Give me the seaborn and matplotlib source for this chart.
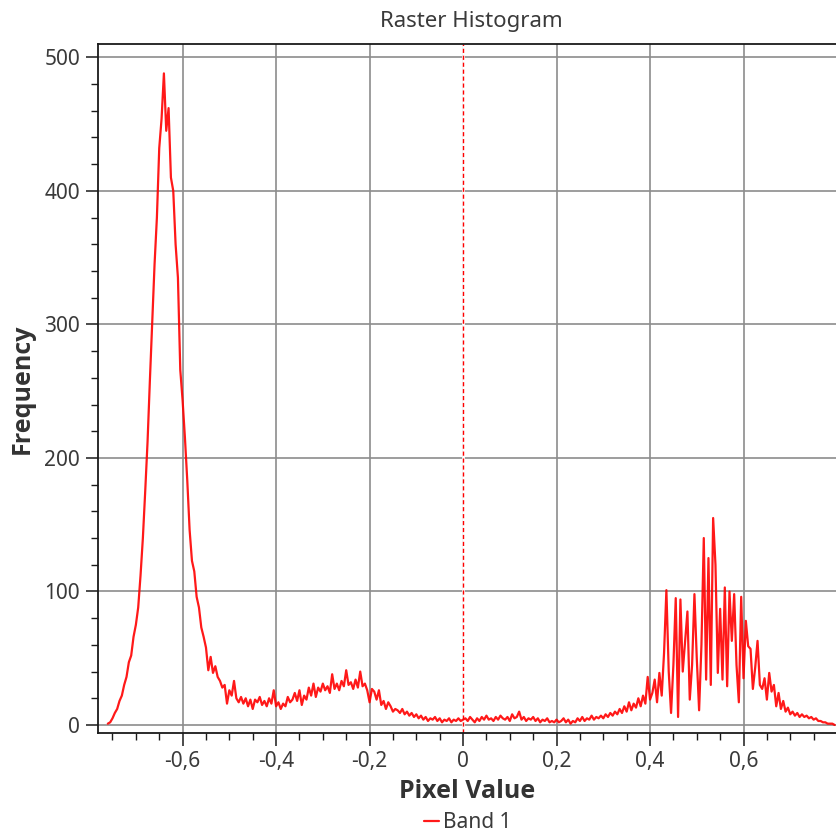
import numpy as np
import pandas as pd
import matplotlib
matplotlib.use("Agg")
import matplotlib.pyplot as plt
import seaborn as sns
from matplotlib.ticker import MultipleLocator, FuncFormatter
from matplotlib import font_manager

# ---- data ----
bin_start = -0.760
bin_step = 0.005

freq_left_peak = [1, 2, 5, 9, 12, 18, 22, 30, 36, 47, 52, 66, 75, 88, 112, 140, 175, 212, 258, 301,
                  345, 380, 432, 454, 488, 445, 462, 410, 400, 360, 335, 266, 243, 215, 183, 146, 123,
                  115, 96, 88, 73, 66, 58, 41]
freq_middle = [51, 39, 44, 36, 33, 28, 30, 16, 26, 22, 33, 20, 17, 21, 16, 20, 14, 19, 12, 19,
               17, 21, 15, 18, 14, 20, 16, 26, 14, 17, 12, 16, 14, 21, 17, 19, 24, 18, 26, 15,
               22, 19, 28, 22, 31, 21, 28, 25, 31, 26, 29, 24, 38, 27, 31, 26, 33, 29, 41, 30,
               32, 27, 34, 28, 40, 29, 31, 26, 17, 27, 25, 19, 26, 15, 18, 12, 17, 14, 10, 12,
               11, 9, 12, 8, 10, 7, 9, 6, 8, 5, 7, 4, 6, 3, 5, 4, 6, 3, 5, 2,
               4, 3, 5, 2, 4, 3, 5, 3, 4]
freq_flat = [5, 3, 6, 4, 2, 5, 3, 6, 4, 7, 4, 5, 3, 6, 4, 7, 5, 4, 6, 3,
             8, 5, 6, 10, 4, 6, 3, 5, 4, 6, 3, 5, 2, 4, 3, 5, 2, 3, 2, 4,
             2, 3, 5, 2, 4, 1, 3, 2, 5, 3, 6, 3, 5, 4, 7, 4, 6, 5, 7, 5,
             8, 6, 9, 7, 10, 8, 12, 9, 14, 10, 17, 11, 16, 13, 20, 14, 22, 16, 36]
freq_right_peak = [19, 24, 34, 17, 39, 22, 54, 101, 40, 9, 45, 95, 6, 94, 40, 62, 85, 19, 45, 98,
                   50, 11, 60, 140, 34, 125, 30, 155, 120, 39, 87, 34, 103, 29, 100, 63, 98, 45, 17, 96,
                   35, 78, 59, 57, 27, 43, 63, 30, 27, 35, 19, 39, 25, 30, 14, 24, 12, 18, 10, 13,
                   8, 10, 7, 9, 6, 8, 6, 7, 5, 6, 4, 5, 3, 3, 2, 2, 1, 1, 1, 0]

x_major_ticks = [-0.6, -0.4, -0.2, 0.0, 0.2, 0.4, 0.6]
y_major_ticks = [0, 100, 200, 300, 400, 500]

frequency = freq_left_peak + freq_middle + freq_flat + freq_right_peak
pixel_value = bin_start + bin_step * np.arange(len(frequency))
df = pd.DataFrame({"Pixel Value": pixel_value, "Frequency": frequency})

# ---- style ----
sns.set_style("white")
fonts = font_manager.fontManager.ttflist
def has_bold(name):
    return any(f.name == name and (f.weight in (600, 700, 800, "bold", "semibold")) for f in fonts)
names = {f.name for f in fonts}
base = [f for f in ["Noto Sans", "DejaVu Sans"] if f in names]
bold_fam = next((f for f in ["Noto Sans", "Open Sans", "Lato", "Roboto", "DejaVu Sans"] if has_bold(f)), "DejaVu Sans")
plt.rcParams["font.family"] = base
text_col = "#3a3a3a"

fig = plt.figure(figsize=(8.37, 8.35), dpi=100)
ax = fig.add_axes([98 / 837, (835 - 733) / 835, (837 - 98) / 837, (733 - 44) / 835])

ax.set_xlim(-0.781, 0.800)
ax.set_ylim(-6, 510)

ax.set_xticks(x_major_ticks)
ax.set_yticks(y_major_ticks)
ax.xaxis.set_minor_locator(MultipleLocator(0.05))
ax.yaxis.set_minor_locator(MultipleLocator(20))
ax.xaxis.set_major_formatter(FuncFormatter(lambda v, p: "0" if abs(v) < 1e-9 else f"{v:.1f}".replace(".", ",")))

ax.grid(True, which="major", color="#8c8c8c", linewidth=1.2)
ax.set_axisbelow(True)

sns.lineplot(data=df, x="Pixel Value", y="Frequency", ax=ax, color="#ff0000",
             linewidth=1.6, alpha=0.9, label="Band 1", legend=False)
ax.axvline(0, color="white", linewidth=2.0, zorder=1.5)
ax.axvline(0, color="#ff0000", linestyle=(0, (3, 2)), linewidth=1.0, zorder=1.6)

for s in ["left", "bottom", "top"]:
    ax.spines[s].set_color("#1a1a1a")
    ax.spines[s].set_linewidth(1.3)
ax.spines["right"].set_visible(False)

ax.tick_params(axis="both", which="major", direction="out", length=9, width=1.1,
               color="#1a1a1a", labelsize=15, labelcolor=text_col, pad=4)
ax.tick_params(axis="both", which="minor", direction="out", length=5, width=1.0, color="#1a1a1a")
ax.tick_params(bottom=True, left=True, which="both")

ax.set_xlabel("Pixel Value", fontsize=18, fontweight="bold", color="#333333", labelpad=5,
              family=bold_fam)
ax.set_ylabel("Frequency", fontsize=18, fontweight="bold", color="#333333", labelpad=7,
              family=bold_fam)
fig.text(471 / 837, 1 - 22 / 835, "Raster Histogram", ha="center", va="center",
         fontsize=16, color=text_col)

handles, labels = ax.get_legend_handles_labels()
fig.legend(handles, labels, loc="center", bbox_to_anchor=(468 / 837, 1 - 823 / 835),
           frameon=False, fontsize=15, handlelength=0.7, handletextpad=0.2,
           labelcolor=text_col)

fig.savefig("out.png", dpi=100)
